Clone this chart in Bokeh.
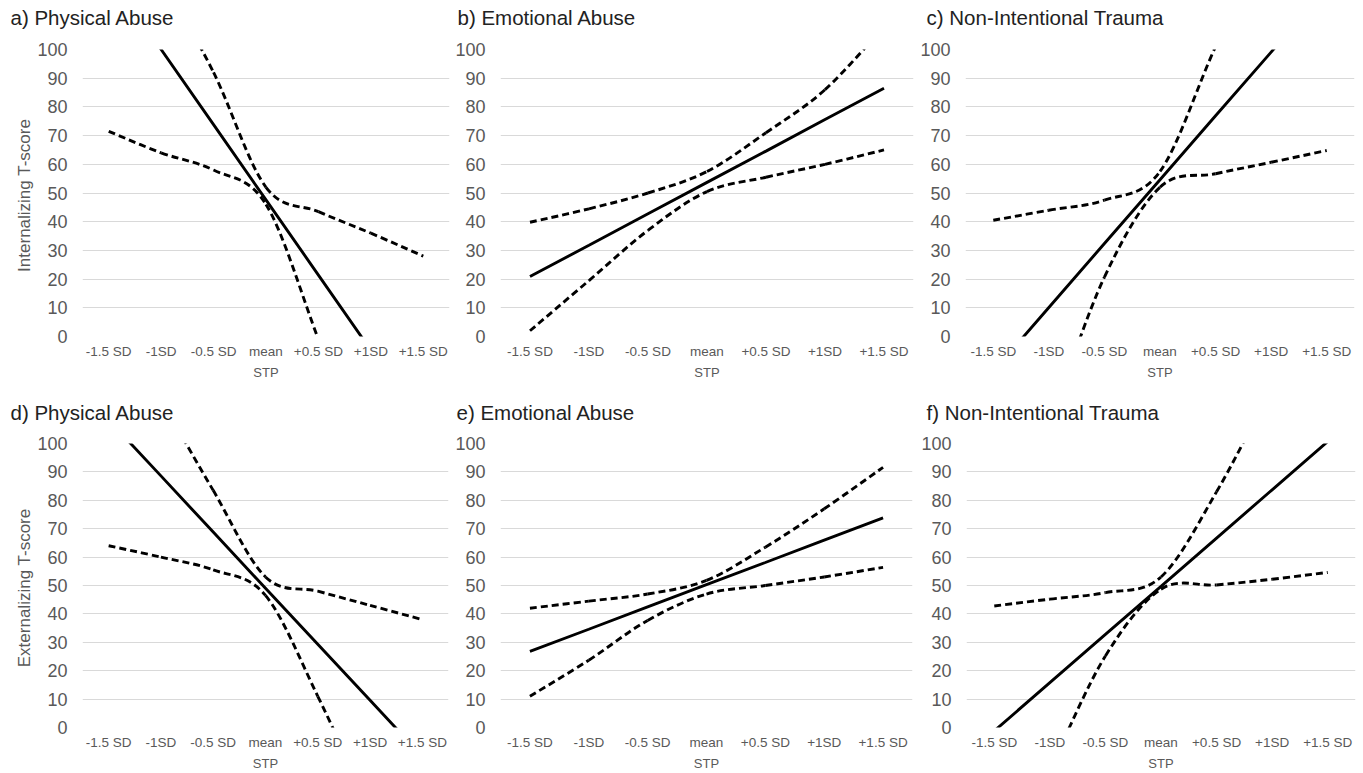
from bokeh.plotting import figure
from bokeh.models import Range1d, FixedTicker, ColumnDataSource
from bokeh.layouts import column, row
from bokeh.embed import file_html
from bokeh.resources import INLINE

categories = ["-1.5 SD", "-1SD", "-0.5 SD", "mean", "+0.5 SD", "+1SD", "+1.5 SD"]
y_ticks = [0, 10, 20, 30, 40, 50, 60, 70, 80, 90, 100]

# a) Internalizing - Physical Abuse
a_est = [126.2, 100.0, 73.8, 47.6, 21.4, -4.8, -31.0]
a_upper = [158, 125, 92, 52, 43.5, 36, 28]
a_lower = [71.5, 64, 58, 46, -1, -50, -100]
# b) Internalizing - Emotional Abuse
b_est = [20.9, 31.8, 42.8, 53.7, 64.6, 75.6, 86.5]
b_upper = [39.8, 44.5, 50, 57.5, 71, 86, 108]
b_lower = [2, 19.5, 37, 50.5, 55.5, 60, 65]
# c) Internalizing - Non-Intentional Trauma
c_est = [-12.2, 10.1, 32.4, 54.6, 76.9, 99.1, 121.4]
c_upper = [40.5, 44, 47.5, 57.5, 101, 141, 181]
c_lower = [-75, -30, 20.7, 52, 56.7, 60.7, 64.8]
# d) Externalizing - Physical Abuse
d_est = [108.3, 88.6, 68.8, 49.05, 29.3, 9.6, -10.2]
d_upper = [148, 115.5, 83.5, 53, 48, 43, 38]
d_lower = [64, 60, 55.5, 46.5, 11, -29, -70]
# e) Externalizing - Emotional Abuse
e_est = [26.8, 34.6, 42.5, 50.3, 58.1, 66.0, 73.8]
e_upper = [42, 44.5, 47, 51.8, 63.5, 77, 91.6]
e_lower = [11, 23.7, 37.7, 47, 50, 53, 56.4]
# f) Externalizing - Non-Intentional Trauma
f_est = [-1.2, 15.8, 32.8, 49.7, 66.7, 83.7, 100.7]
f_upper = [42.8, 45.2, 47.5, 53, 83, 120, 157]
f_lower = [-52, -14.4, 25.2, 48.7, 50.2, 52.2, 54.6]

FONT = "Liberation Sans"
GRAY = "#595959"


def smooth_segments(xs, ys):
    n = len(xs)
    d = dict(x0=[], y0=[], x1=[], y1=[], cx0=[], cy0=[], cx1=[], cy1=[])
    for i in range(n - 1):
        i0 = max(i - 1, 0)
        i3 = min(i + 2, n - 1)
        d["x0"].append(xs[i]); d["y0"].append(ys[i])
        d["x1"].append(xs[i + 1]); d["y1"].append(ys[i + 1])
        d["cx0"].append(xs[i] + (xs[i + 1] - xs[i0]) / 6)
        d["cy0"].append(ys[i] + (ys[i + 1] - ys[i0]) / 6)
        d["cx1"].append(xs[i + 1] - (xs[i3] - xs[i]) / 6)
        d["cy1"].append(ys[i + 1] - (ys[i3] - ys[i]) / 6)
    return ColumnDataSource(d)


def panel(title, est, upper, lower, ylabel, fw, fh, left, right, top, bottom, toff, tpad):
    xs = list(range(len(categories)))
    p = figure(frame_width=fw, frame_height=fh,
               x_range=Range1d(-0.5, len(categories) - 0.5), y_range=Range1d(0, 100),
               output_backend="svg", toolbar_location=None,
               min_border_left=left, min_border_right=right,
               min_border_top=top, min_border_bottom=bottom,
               title=title)
    p.outline_line_color = None
    p.background_fill_color = "white"
    p.border_fill_color = "white"

    p.title.align = "left"
    p.title.vertical_align = "bottom"
    p.title.offset = toff
    p.title.standoff = 0
    p.title.padding = dict(top=0, right=0, bottom=tpad, left=0)
    p.title.text_font = FONT
    p.title.text_font_size = "20.5px"
    p.title.text_font_style = "normal"
    p.title.text_color = "#222222"

    p.xgrid.visible = False
    p.ygrid.grid_line_color = "#d9d9d9"
    p.ygrid.grid_line_width = 1

    p.yaxis.ticker = FixedTicker(ticks=y_ticks)
    p.yaxis.axis_line_color = None
    p.yaxis.major_tick_line_color = None
    p.yaxis.minor_tick_line_color = None
    p.yaxis.major_tick_out = 0
    p.yaxis.minor_tick_out = 0
    p.yaxis.major_label_standoff = 15
    p.yaxis.major_label_text_font = FONT
    p.yaxis.major_label_text_font_size = "18px"
    p.yaxis.major_label_text_color = GRAY
    if ylabel:
        p.yaxis.axis_label = ylabel
        p.yaxis.axis_label_text_font = FONT
        p.yaxis.axis_label_text_font_size = "17px"
        p.yaxis.axis_label_text_font_style = "normal"
        p.yaxis.axis_label_text_color = GRAY
        p.yaxis.axis_label_standoff = 0

    p.xaxis.ticker = FixedTicker(ticks=xs)
    p.xaxis.major_label_overrides = {i: c for i, c in enumerate(categories)}
    p.xaxis.axis_line_color = None
    p.xaxis.major_tick_line_color = None
    p.xaxis.minor_tick_line_color = None
    p.xaxis.major_tick_out = 0
    p.xaxis.minor_tick_out = 0
    p.xaxis.major_label_standoff = 7
    p.xaxis.major_label_text_font = FONT
    p.xaxis.major_label_text_font_size = "13.5px"
    p.xaxis.major_label_text_color = GRAY
    p.xaxis.axis_label = "STP"
    p.xaxis.axis_label_text_font = FONT
    p.xaxis.axis_label_text_font_size = "13px"
    p.xaxis.axis_label_text_font_style = "normal"
    p.xaxis.axis_label_text_color = GRAY
    p.xaxis.axis_label_standoff = 3

    for band in (upper, lower):
        src = smooth_segments(xs, band)
        p.bezier(x0="x0", y0="y0", x1="x1", y1="y1", cx0="cx0", cy0="cy0",
                 cx1="cx1", cy1="cy1", source=src, line_color="black",
                 line_width=2.9, line_dash="7 4")
    p.line(xs, est, line_color="black", line_width=2.9)
    return p


pa = panel("a) Physical Abuse", a_est, a_upper, a_lower, "Internalizing  T-score",
           367, 287, 82, 3, 49, 52, -72, 21)
pb = panel("b) Emotional Abuse", b_est, b_upper, b_lower, None,
           413, 287, 46, 3, 49, 52, -43, 21)
pc = panel("c) Non-Intentional  Trauma", c_est, c_upper, c_lower, None,
           389, 287, 49, 8, 49, 52, -39, 21)
pd = panel("d) Physical Abuse", d_est, d_upper, d_lower, "Externalizing  T-score",
           366, 284, 82, 4, 55, 44, -72, 20)
pe = panel("e) Emotional Abuse", e_est, e_upper, e_lower, None,
           412, 284, 45, 5, 55, 44, -44, 20)
pf = panel("f) Non-Intentional  Trauma", f_est, f_upper, f_lower, None,
           389, 284, 49, 8, 55, 44, -40, 20)

layout = column(row(pa, pb, pc), row(pd, pe, pf))
open("out.html", "w").write(file_html(layout, INLINE))
